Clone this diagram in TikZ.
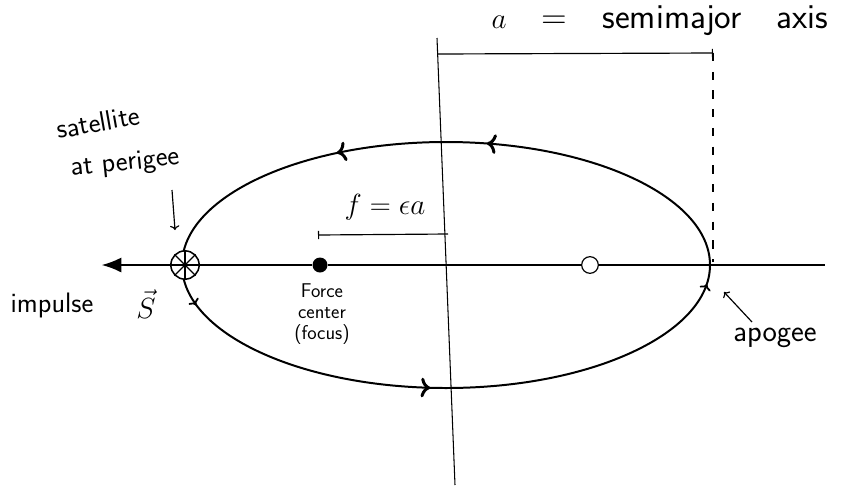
\documentclass[tikz,border=0pt]{standalone}
\usepackage{amsmath}
\usepackage{xcolor}
\usetikzlibrary{arrows.meta,decorations.markings}

\begin{document}
\begin{tikzpicture}[x=0.03cm, y=-0.03cm,
    orbit/.style={line width=1.7pt, postaction={decorate}, decoration={markings,
      mark=at position 0.02 with {\arrow[scale=0.9]{<}},
      mark=at position 0.27 with {\arrow[scale=1.5]{<}},
      mark=at position 0.47 with {\arrow[scale=0.9]{<}},
      mark=at position 0.67 with {\arrow[scale=1.5]{<}},
      mark=at position 0.79 with {\arrow[scale=1.5]{<}}}},
    lbl/.style={font=\sffamily\fontsize{#1}{#1}\selectfont, inner sep=0pt, align=center},
    lbl/.default=20]
    \useasboundingbox (0,0) rectangle (855,490);
    % axes
    \coordinate (top) at (437,38);
    \coordinate (bottom) at (455,485);
    \coordinate (right) at (825,265);
    \coordinate (tip) at (105,265);
    \draw[line width=0.9pt] (top) -- (bottom);
    % orbit and foci
    \draw[orbit] (446,265) ellipse [x radius=264, y radius=123];
    \node[circle, draw, line width=1.3pt, minimum size=0.85cm, inner sep=0pt, fill=white] (sat) at (185,265) {};
    \foreach \ang in {0,45,90,135}
        \draw[line width=1pt] (sat.\ang) -- (sat.\ang+180);
    \node[circle, fill, minimum size=0.45cm, inner sep=0pt] (focus) at (320,265) {};
    \node[circle, draw, line width=1pt, minimum size=0.5cm, inner sep=0pt] (empty) at (590,265) {};
    \draw[line width=1pt] (sat) -- (focus) -- (empty) -- (right);
    \draw[line width=2pt, -{Latex[length=17pt,width=13pt]}, shorten >=-3pt] (sat) -- (tip);
    % distances
    \coordinate (fL) at (318,235);
    \coordinate (fR) at (448,234);
    \coordinate (aL) at (438,54);
    \coordinate (aR) at (713,53);
    \coordinate (apo) at (713,262);
    \draw[line width=1pt, |-] (fL) -- (fR);
    \draw[line width=1pt, -|] (aL) -- (aR);
    \draw[line width=1.2pt, dash pattern=on 7pt off 9pt] (aR) -- (apo);
    % labels
    \node[lbl=30] (alabel) at (660,21) {$a$\hspace{1em}=\hspace{1em}semimajor\hspace{1em}axis};
    \node[lbl=26] (flabel) at (385,207) {$f = \epsilon a$};
    \node[lbl=24, rotate=10] (satlabel) at (98,122) {satellite};
    \node[lbl=24, rotate=6] (perilabel) at (125,164) {at perigee};
    \node[lbl, font=\sffamily\fontsize{17}{18}\selectfont] (forcelabel) at (322,314) {Force\\center\\(focus)};
    \node[lbl=24] (implabel) at (52,305) {impulse};
    \node[lbl=28] (slabel) at (146,304) {$\vec{S}$};
    \node[lbl=26] (apolabel) at (775,338) {apogee};
    \coordinate (periA) at (172,190);
    \coordinate (periB) at (175,230);
    \coordinate (apoA) at (752,322);
    \coordinate (apoB) at (724,292);
    \draw[line width=1pt, ->] (periA) -- (periB);
    \draw[line width=1pt, ->] (apoA) -- (apoB);
\end{tikzpicture}
\end{document}
